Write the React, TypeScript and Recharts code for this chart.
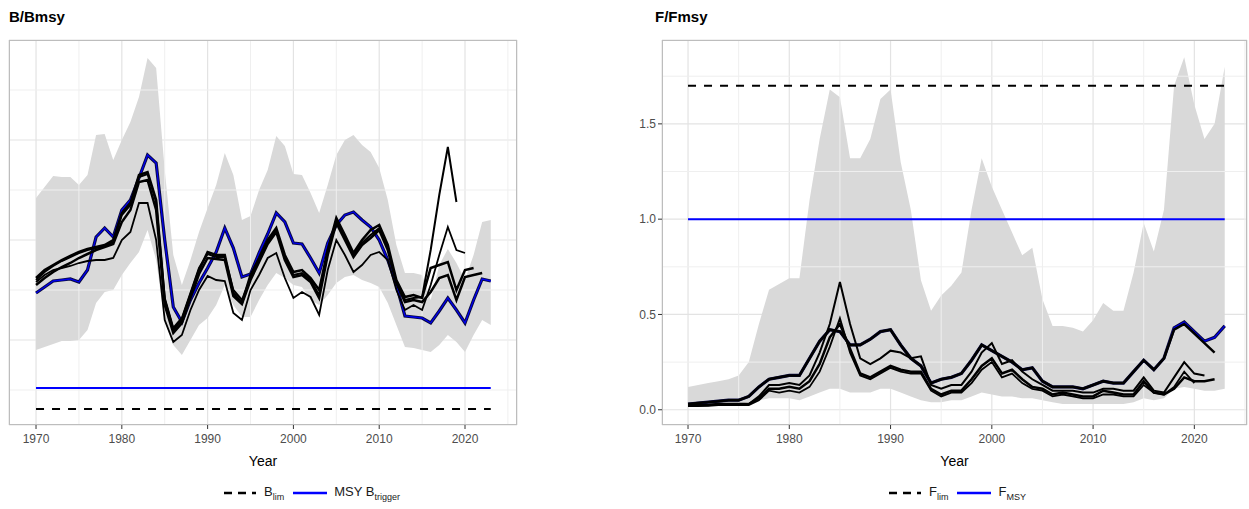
import React from "react";
import { ComposedChart, Area, Line, XAxis, YAxis, CartesianGrid, ReferenceLine } from "recharts";

const years = Array.from({ length: 54 }, (_, i) => 1970 + i);

// B/Bmsy (relative units)
const bBlue = [1.47,1.53,1.59,1.60,1.61,1.58,1.70,2.03,2.12,2.03,2.30,2.40,2.62,2.85,2.77,2.00,1.33,1.18,1.40,1.57,1.72,1.88,2.12,1.92,1.63,1.66,1.87,2.06,2.27,2.18,1.97,1.96,1.82,1.67,1.97,2.15,2.25,2.28,2.20,2.13,2.00,1.80,1.55,1.24,1.23,1.22,1.17,1.29,1.42,1.30,1.17,1.40,1.61,1.59];
const bA = [1.62,1.70,1.75,1.80,1.84,1.88,1.91,1.93,1.95,2.00,2.27,2.37,2.65,2.68,2.40,1.40,1.10,1.20,1.45,1.70,1.88,1.85,1.85,1.47,1.37,1.65,1.82,2.00,2.12,1.85,1.68,1.70,1.62,1.50,1.90,2.22,2.05,1.87,2.00,2.10,2.15,1.95,1.60,1.43,1.45,1.42,1.72,1.75,1.78,1.50,1.70,1.72,null,null];
const bB = [1.60,1.68,1.74,1.79,1.83,1.87,1.90,1.92,1.94,1.98,2.25,2.35,2.63,2.66,2.38,1.42,1.12,1.22,1.47,1.72,1.86,1.83,1.83,1.50,1.40,1.62,1.80,1.98,2.10,1.82,1.65,1.67,1.60,1.45,1.88,2.20,2.02,1.85,1.97,2.05,2.12,1.92,1.58,1.40,1.42,1.43,1.90,2.45,2.93,2.38,null,null,null,null];
const bC = [1.58,1.65,1.70,1.72,1.74,1.77,1.79,1.80,1.80,1.82,2.00,2.08,2.37,2.37,2.00,1.20,0.98,1.05,1.30,1.50,1.64,1.60,1.59,1.27,1.20,1.50,1.65,1.82,1.87,1.62,1.42,1.48,1.43,1.25,1.70,2.00,1.85,1.68,1.75,1.85,1.88,1.80,1.50,1.30,1.35,1.30,1.55,1.85,2.13,1.90,1.87,null,null,null];
const bD = [1.55,1.62,1.68,1.73,1.77,1.82,1.86,1.90,1.93,1.96,2.18,2.30,2.58,2.60,2.30,1.35,1.07,1.17,1.42,1.66,1.82,1.81,1.80,1.44,1.36,1.60,1.78,1.96,2.08,1.80,1.63,1.65,1.58,1.42,1.85,2.17,2.00,1.83,1.95,2.02,2.10,1.90,1.57,1.38,1.40,1.38,1.48,1.62,1.65,1.40,1.63,1.65,1.67,null];
const bLo = [0.90,0.93,0.96,0.99,0.99,1.00,1.10,1.37,1.48,1.50,1.65,1.77,1.88,2.10,1.80,1.18,0.95,0.85,1.00,1.15,1.22,1.35,1.55,1.35,1.23,1.23,1.40,1.55,1.67,1.62,1.55,1.53,1.40,1.35,1.45,1.57,1.63,1.65,1.60,1.57,1.53,1.37,1.15,0.93,0.92,0.90,0.88,0.95,1.05,0.98,0.88,1.05,1.20,1.15];
const bHi = [2.42,2.53,2.64,2.63,2.63,2.55,2.65,3.05,3.06,2.80,3.00,3.18,3.43,3.82,3.72,2.70,1.85,1.55,1.80,2.08,2.32,2.55,2.87,2.65,2.20,2.24,2.50,2.70,3.04,2.94,2.66,2.65,2.47,2.27,2.55,2.85,3.00,3.05,2.95,2.88,2.72,2.40,1.95,1.67,1.67,1.65,1.40,1.75,1.91,1.77,1.60,1.85,2.18,2.20];
const bTrigger = 0.52;
const bLim = 0.31;

// F/Fmsy
const fBlue = [0.03,0.035,0.04,0.045,0.05,0.05,0.07,0.12,0.16,0.17,0.18,0.18,0.27,0.36,0.42,0.41,0.34,0.34,0.37,0.41,0.42,0.34,0.27,0.23,0.14,0.16,0.17,0.19,0.26,0.34,0.31,0.28,0.25,0.21,0.22,0.15,0.12,0.12,0.12,0.11,0.13,0.15,0.14,0.14,0.20,0.26,0.21,0.27,0.43,0.46,0.41,0.36,0.38,0.44];
const fA = [0.03,0.035,0.04,0.045,0.05,0.05,0.07,0.12,0.16,0.17,0.18,0.18,0.27,0.36,0.42,0.41,0.34,0.34,0.37,0.41,0.42,0.34,0.27,0.23,0.14,0.16,0.17,0.19,0.26,0.34,0.31,0.28,0.25,0.21,0.22,0.15,0.12,0.12,0.12,0.11,0.13,0.15,0.14,0.14,0.20,0.26,0.21,0.27,0.42,0.45,0.40,0.35,0.30,null];
const fB = [0.02,0.02,0.025,0.03,0.03,0.03,0.03,0.07,0.13,0.13,0.14,0.13,0.18,0.30,0.45,0.67,0.45,0.27,0.24,0.27,0.31,0.30,0.27,0.28,0.13,0.11,0.13,0.13,0.20,0.30,0.35,0.24,0.26,0.20,0.16,0.13,0.10,0.10,0.10,0.09,0.09,0.11,0.11,0.10,0.10,0.17,0.10,0.09,0.17,0.25,0.19,0.18,null,null];
const fC = [0.02,0.02,0.02,0.025,0.025,0.025,0.025,0.05,0.10,0.09,0.10,0.09,0.12,0.20,0.33,0.48,0.30,0.18,0.16,0.19,0.22,0.20,0.19,0.19,0.10,0.07,0.09,0.09,0.14,0.21,0.25,0.17,0.19,0.14,0.11,0.10,0.07,0.08,0.07,0.06,0.06,0.08,0.08,0.07,0.07,0.13,0.09,0.08,0.12,0.20,0.14,null,null,null];
const fD = [0.025,0.025,0.025,0.03,0.03,0.03,0.03,0.06,0.11,0.11,0.12,0.11,0.15,0.24,0.38,0.45,0.32,0.19,0.17,0.20,0.23,0.21,0.20,0.20,0.11,0.08,0.10,0.10,0.16,0.23,0.27,0.19,0.21,0.16,0.12,0.11,0.08,0.09,0.08,0.07,0.07,0.10,0.09,0.08,0.08,0.15,0.09,0.08,0.11,0.17,0.15,0.15,0.16,null];
const fLo = [0.03,0.03,0.03,0.03,0.03,0.03,0.04,0.05,0.06,0.06,0.06,0.05,0.07,0.09,0.11,0.11,0.09,0.09,0.09,0.11,0.11,0.09,0.07,0.05,0.04,0.04,0.05,0.05,0.07,0.09,0.08,0.07,0.07,0.06,0.06,0.05,0.04,0.03,0.03,0.03,0.03,0.03,0.03,0.03,0.04,0.06,0.05,0.06,0.11,0.12,0.11,0.10,0.10,0.11];
const fHi = [0.12,0.13,0.14,0.15,0.16,0.18,0.25,0.45,0.63,0.66,0.69,0.69,1.10,1.42,1.68,1.64,1.32,1.32,1.42,1.63,1.68,1.30,1.05,0.68,0.52,0.60,0.65,0.72,1.05,1.32,1.17,1.05,0.93,0.81,0.85,0.58,0.44,0.44,0.43,0.41,0.47,0.56,0.52,0.52,0.72,0.98,0.83,1.05,1.70,1.85,1.60,1.42,1.50,1.80];
const fMsy = 1.0;
const fLim = 1.7;

const xTicks = [1970, 1980, 1990, 2000, 2010, 2020];
const xMinor = [1975, 1985, 1995, 2005, 2015, 2025];

const bData = years.map((y, i) => ({ year: y, band: [bLo[i], bHi[i]], blue: bBlue[i], a: bA[i], b: bB[i], c: bC[i], d: bD[i] }));
const fData = years.map((y, i) => ({ year: y, band: [fLo[i], fHi[i]], blue: fBlue[i], a: fA[i], b: fB[i], c: fC[i], d: fD[i] }));

const font = "Arial, 'Liberation Sans', sans-serif";
const grid = "#e3e3e3";
const minor = "#efefef";

function Panel({ data, domain, yMajor, yMinorT, refBlue, refDash, showY, width, ml }: any) {
  const keys = ["d", "c", "b", "a"];
  const widths: any = { a: 2.5, b: 2, c: 1.8, d: 2.5 };
  return (
    <ComposedChart width={width} height={478} data={data} margin={{ top: 40, right: 2, left: ml, bottom: 0 }}>
      {yMinorT.map((v: number) => <ReferenceLine key={"ym" + v} y={v} stroke={minor} strokeWidth={1} />)}
      {xMinor.map((v) => <ReferenceLine key={"xm" + v} x={v} stroke={minor} strokeWidth={1} />)}
      <CartesianGrid stroke={grid} strokeWidth={1.2} />
      <XAxis dataKey="year" type="number" domain={domain} ticks={xTicks} allowDataOverflow
        tick={{ fontSize: 12, fill: "#4d4d4d", fontFamily: font }} tickLine={{ stroke: "#333" }} tickSize={4} tickMargin={5}
        axisLine={false} height={53}
        label={{ value: "Year", position: "insideBottom", offset: 12, fontSize: 14, fill: "#000", fontFamily: font }} />
      <YAxis type="number" domain={yMajor.domain} ticks={yMajor.ticks} allowDataOverflow
        hide={!showY} width={42} axisLine={false} tickSize={4} tickLine={{ stroke: "#333" }}
        tickFormatter={(v: number) => v.toFixed(1)} tick={{ fontSize: 12, fill: "#4d4d4d", fontFamily: font }} />
      <Area dataKey="band" stroke="none" fill="#d9d9d9" fillOpacity={1} isAnimationActive={false} />
      <ReferenceLine segment={[{ x: 1970, y: refDash.y }, { x: refDash.end, y: refDash.y }]} stroke="#000" strokeWidth={2} strokeDasharray="8 8" />
      <ReferenceLine segment={[{ x: 1970, y: refBlue }, { x: 2023, y: refBlue }]} stroke="#0000ff" strokeWidth={2} />
      <Line dataKey="blue" stroke="#0a0a40" strokeWidth={3.2} dot={false} isAnimationActive={false} />
      <Line dataKey="blue" stroke="#0000ee" strokeWidth={1.3} dot={false} isAnimationActive={false} />
      {keys.map((k) => <Line key={k} dataKey={k} stroke="#000" strokeWidth={widths[k]} dot={false} isAnimationActive={false} />)}
    </ComposedChart>
  );
}

const Leg = ({ left, dashLabel, dashSub, blueLabel, blueSub }: any) => (
  <div style={{ position: "absolute", left, top: 484, display: "flex", alignItems: "center", fontFamily: font, fontSize: 13, color: "#1a1a1a", whiteSpace: "nowrap" }}>
    <svg width="36" height="10"><line x1="2" y1="5" x2="34" y2="5" stroke="#000" strokeWidth="2.5" strokeDasharray="8 6" /></svg>
    <span style={{ marginLeft: 6 }}>{dashLabel}<sub style={{ fontSize: 9 }}>{dashSub}</sub></span>
    <svg width="36" height="10" style={{ marginLeft: 8 }}><line x1="1" y1="5" x2="35" y2="5" stroke="#0000ff" strokeWidth="2.5" /></svg>
    <span style={{ marginLeft: 6 }}>{blueLabel}<sub style={{ fontSize: 9 }}>{blueSub}</sub></span>
  </div>
);

export default function App() {
  return (
    <div style={{ position: "absolute", left: 0, top: 0, width: 1249, height: 509, background: "#fff" }}>
      <div style={{ position: "absolute", left: 9, top: 8, fontFamily: font, fontWeight: "bold", fontSize: 15 }}>B/Bmsy</div>
      <div style={{ position: "absolute", left: 655, top: 8, fontFamily: font, fontWeight: "bold", fontSize: 15 }}>F/Fmsy</div>
      <div style={{ position: "absolute", left: 0, top: 0 }}>
        <Panel data={bData} domain={[1966.85, 2026.06]} yMajor={{ domain: [0.15, 4.0], ticks: [1, 2, 3] }} yMinorT={[0.5, 1.5, 2.5, 3.5]}
          refBlue={bTrigger} refDash={{ y: bLim, end: 2023 }} showY={false} width={519} ml={9} />
      </div>
      <div style={{ position: "absolute", left: 620, top: 0 }}>
        <Panel data={fData} domain={[1967.43, 2025.2]} yMajor={{ domain: [-0.08, 1.94], ticks: [0, 0.5, 1, 1.5] }} yMinorT={[0.25, 0.75, 1.25, 1.75]}
          refBlue={fMsy} refDash={{ y: fLim, end: 2023 }} showY={true} width={629} ml={0} />
      </div>
      <div style={{ position: "absolute", left: 9, top: 40, width: 508, height: 385, border: "1px solid #bdbdbd", boxSizing: "border-box", pointerEvents: "none" }} />
      <div style={{ position: "absolute", left: 662, top: 40, width: 585, height: 385, border: "1px solid #bdbdbd", boxSizing: "border-box", pointerEvents: "none" }} />
      <Leg left={222} dashLabel="B" dashSub="lim" blueLabel="MSY B" blueSub="trigger" />
      <Leg left={887} dashLabel="F" dashSub="lim" blueLabel="F" blueSub="MSY" />
    </div>
  );
}
